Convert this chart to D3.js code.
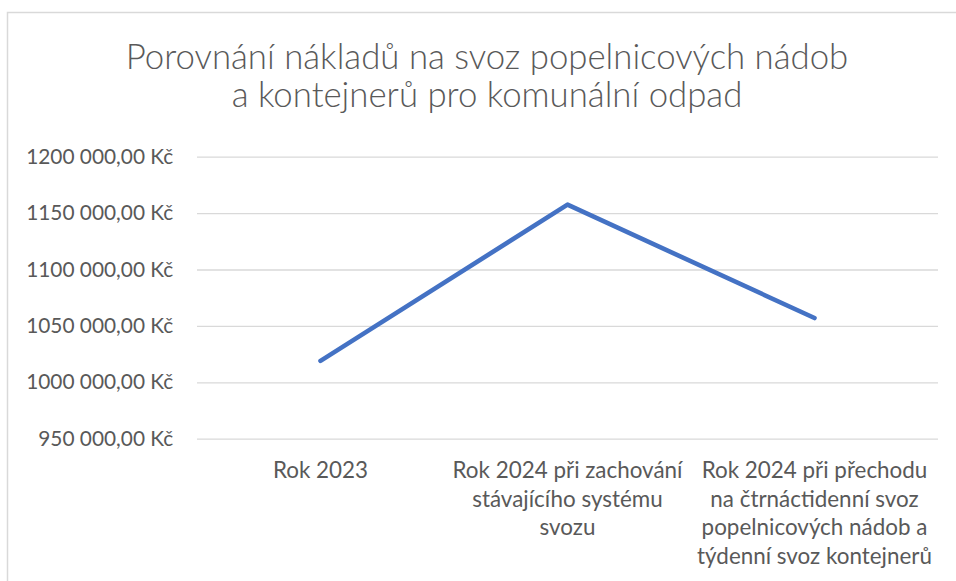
<!DOCTYPE html>
<html>
<head>
<meta charset="utf-8">
<script src="https://cdn.jsdelivr.net/npm/d3@7"></script>
<style>
  html, body { margin: 0; padding: 0; background: #ffffff; }
  svg { display: block; }
  text { font-family: Lato, "Open Sans", sans-serif; fill: #595959; }
</style>
</head>
<body>
<svg id="chart" width="956" height="581"></svg>
<script>
// ---- data ----
const titleLines = [
  "Porovnání nákladů na svoz popelnicových nádob",
  "a kontejnerů pro komunální odpad"
];
const categories = [
  "Rok 2023",
  "Rok 2024 při zachování stávajícího systému svozu",
  "Rok 2024 při přechodu na čtrnáctidenní svoz popelnicových nádob a týdenní svoz kontejnerů"
];
const categoryLines = [
  ["Rok 2023"],
  ["Rok 2024 při zachování", "stávajícího systému", "svozu"],
  ["Rok 2024 při přechodu", "na čtrnáctidenní svoz", "popelnicových nádob a", "týdenní svoz kontejnerů"]
];
const costs = [1019000, 1157500, 1057000];
const yTicks = [950000, 1000000, 1050000, 1100000, 1150000, 1200000];
const yTickLabels = [
  "950 000,00 Kč", "1000 000,00 Kč", "1050 000,00 Kč",
  "1100 000,00 Kč", "1150 000,00 Kč", "1200 000,00 Kč"
];

// ---- layout ----
const svg = d3.select("#chart");
const plot = { left: 197, right: 938, top: 156.7, bottom: 438.7 };

// outer chart border (extends past the window on right/bottom)
svg.append("rect")
  .attr("x", 7.5).attr("y", 12.5)
  .attr("width", 1000).attr("height", 620)
  .attr("fill", "none").attr("stroke", "#d9d9d9").attr("stroke-width", 1.5);

const x = d3.scaleBand().domain(categories).range([plot.left, plot.right]);
const y = d3.scaleLinear().domain([950000, 1200000]).range([plot.bottom, plot.top]);

// fit helper: size font so a reference string reaches target width
function fitSize(sampleText, targetWidth, base, weight) {
  const t = svg.append("text").attr("font-size", base).attr("font-weight", weight || 400).text(sampleText);
  const w = t.node().getComputedTextLength();
  t.remove();
  return base * targetWidth / w;
}
const titleSize = fitSize(titleLines[0], 723, 30, 300);
const labelSize = fitSize("1200 000,00 Kč", 147.3, 20);
const catSize = fitSize("týdenní svoz kontejnerů", 235, 20);

// title
const title = svg.append("text")
  .attr("text-anchor", "middle")
  .attr("font-weight", 300)
  .attr("font-size", titleSize);
title.selectAll("tspan").data(titleLines).join("tspan")
  .attr("x", 487)
  .attr("y", (d, i) => 69 + i * 37.5)
  .text(d => d);

// y axis with gridlines
const yAxis = d3.axisLeft(y)
  .tickValues(yTicks)
  .tickFormat((d, i) => yTickLabels[i])
  .tickSizeInner(-(plot.right - plot.left))
  .tickSizeOuter(0)
  .tickPadding(23.7);
const gy = svg.append("g")
  .attr("transform", `translate(${plot.left},0)`)
  .call(yAxis);
gy.select(".domain").remove();
gy.selectAll(".tick line").attr("stroke", "#d9d9d9").attr("stroke-width", 1.3);
gy.selectAll(".tick text")
  .attr("font-size", labelSize)
  .attr("font-family", "Lato, 'Open Sans', sans-serif")
  .attr("fill", "#595959");

// category labels
const cat = svg.append("g").selectAll("text")
  .data(categories).join("text")
  .attr("text-anchor", "middle")
  .attr("font-size", catSize);
cat.each(function(d, i) {
  d3.select(this).selectAll("tspan").data(categoryLines[i]).join("tspan")
    .attr("x", x(d) + x.bandwidth() / 2)
    .attr("y", (t, j) => 478.3 + j * 28.5)
    .text(t => t);
});

// line
const line = d3.line()
  .x((d, i) => x(categories[i]) + x.bandwidth() / 2)
  .y(d => y(d));
svg.append("path")
  .datum(costs)
  .attr("d", line)
  .attr("fill", "none")
  .attr("stroke", "#4472c4")
  .attr("stroke-width", 4.6)
  .attr("stroke-linecap", "round")
  .attr("stroke-linejoin", "round");
</script>
</body>
</html>
